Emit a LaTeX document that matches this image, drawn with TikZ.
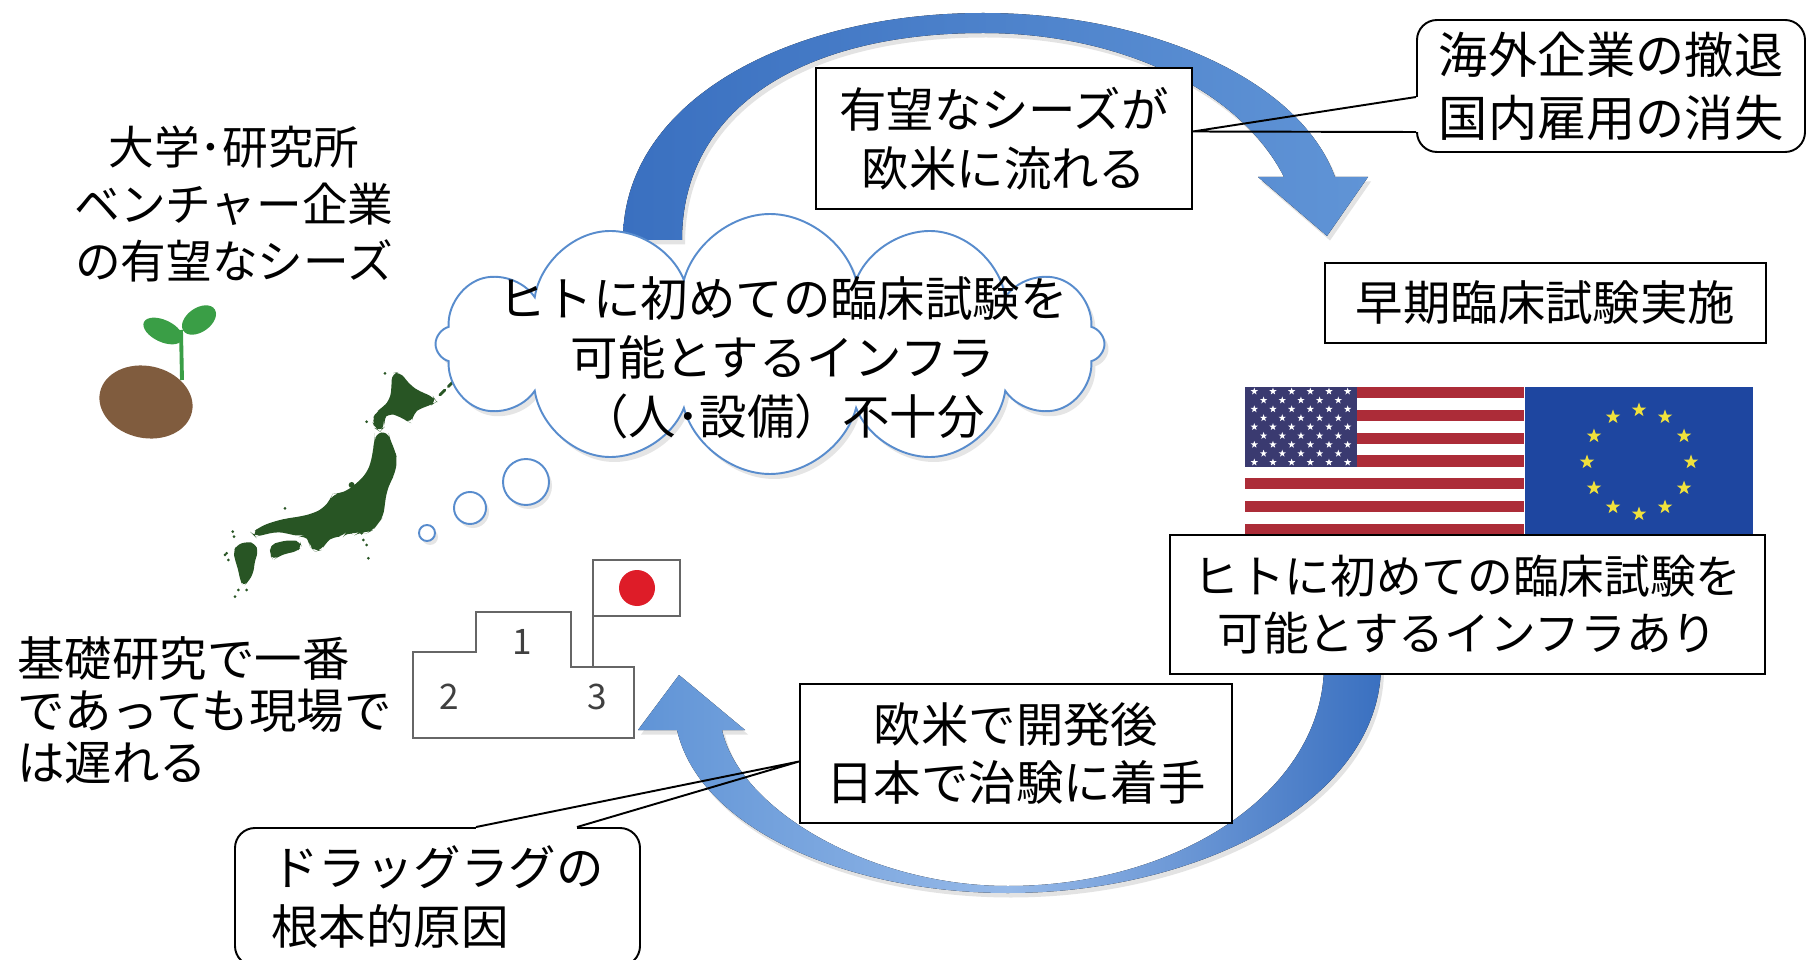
\documentclass[tikz,border=0pt]{standalone}
\usepackage{fontspec}
\setmainfont{Noto Sans CJK JP}
\usetikzlibrary{calc, positioning, shapes.symbols, shadows}
\definecolor{arcDark}{RGB}{58,112,192}
\definecolor{arcMid}{RGB}{96,148,214}
\definecolor{arcLight}{RGB}{150,185,232}
\definecolor{cloudBlue}{RGB}{88,140,205}
\definecolor{mapGreen}{RGB}{40,85,36}
\definecolor{seedBrown}{RGB}{128,92,62}
\definecolor{leafGreen}{RGB}{58,158,70}
\definecolor{usRed}{RGB}{172,44,56}
\definecolor{usBlue}{RGB}{58,58,112}
\definecolor{euBlue}{RGB}{30,70,160}
\definecolor{euYellow}{RGB}{240,225,60}
\definecolor{jpRed}{RGB}{222,28,40}
\definecolor{podiumGray}{gray}{0.4}

% five-pointed star: centre x, centre y, radius, colour
\newcommand{\flagstar}[4]{%
  \fill[#4] ({#1},{#2}) +(-90:#3)
    \foreach \k in {1,...,9}{ -- +({-90+36*\k}:{#3*(0.4+0.6*(1-mod(\k,2)))}) } -- cycle;}

\begin{document}
\begin{tikzpicture}[x=0.2mm, y=-0.2mm,
    txt/.style={font=\fontsize{27}{33.5}\selectfont, align=center, inner sep=0pt},
    box/.style={txt, draw=black, line width=1.1pt, fill=white},
    callout/.style={box, rounded corners=4mm},
    arcshadow/.style={drop shadow={opacity=0.22, shadow xshift=0.6mm, shadow yshift=-0.9mm}},
    bubble/.style={draw=cloudBlue, line width=1.1pt, fill=white,
      drop shadow={opacity=0.2, shadow xshift=0.6mm, shadow yshift=-0.8mm}},
    rank/.style={font=\fontsize{20}{20}\selectfont, text=black!75}]
    \clip (0,0) rectangle (1809,960);
    \fill[white] (0,0) rectangle (1809,960);

    % upper curved arrow
    \fill[arcshadow, left color=arcDark, right color=arcMid]
      (623,240) .. controls (623,100) and (790,13) .. (983,13)
      .. controls (1150,13) and (1300,80) .. (1335,177)
      -- (1368,177) -- (1327,236) -- (1258,177) -- (1284,177)
      .. controls (1240,90) and (1120,33) .. (983,33)
      .. controls (800,33) and (682,110) .. (682,240) -- cycle;

    % lower curved arrow
    \fill[arcshadow, left color=arcMid, right color=arcDark, middle color=arcLight]
      (1381,665) .. controls (1381,800) and (1200,893) .. (1008,893)
      .. controls (850,893) and (700,830) .. (677,730)
      -- (638,730) -- (679,675) -- (745,730) -- (722,730)
      .. controls (740,810) and (870,886) .. (1008,886)
      .. controls (1180,886) and (1324,790) .. (1324,665) -- cycle;

    % seed
    \draw[leafGreen, line width=2.2pt] (182,380) -- (181,330);
    \fill[leafGreen, rotate around={-25:(163,331)}] (163,331) ellipse [x radius=21, y radius=11];
    \fill[leafGreen, rotate around={35:(199,320)}] (199,320) ellipse [x radius=19, y radius=12];
    \fill[seedBrown, rotate around={-12:(146,402)}] (146,402) ellipse [x radius=47, y radius=36];

    % Japan
    \begin{scope}[shift={(220,360)}, scale=0.3333, mapGreen]
      % Hokkaido
      \fill[rounded corners=4pt] (515,40) -- (540,35) -- (570,75) -- (600,95) -- (640,110)
        -- (650,125) -- (635,135) -- (600,145) -- (580,160) -- (575,190)
        -- (555,180) -- (530,165) -- (505,160) -- (490,175) -- (495,200)
        -- (480,215) -- (465,205) -- (455,180) -- (470,155) -- (490,140)
        -- (510,120) -- (515,80) -- cycle;
      % Honshu
      \fill[rounded corners=4pt] (465,220) -- (505,215) -- (510,240) -- (525,270) -- (532,300)
        -- (525,340) -- (510,370) -- (500,395) -- (495,430) -- (490,470)
        -- (475,490) -- (460,510) -- (440,520) -- (420,515) -- (405,525)
        -- (380,515) -- (370,530) -- (340,530) -- (320,545) -- (305,570)
        -- (285,575) -- (270,560) -- (265,540) -- (255,525) -- (240,530)
        -- (200,520) -- (170,515) -- (130,525) -- (105,530) -- (95,520)
        -- (120,500) -- (160,485) -- (200,475) -- (240,470) -- (280,460)
        -- (310,445) -- (330,420) -- (338,402) -- (360,400) -- (385,390)
        -- (410,370) -- (440,340) -- (455,300) -- (460,260) -- (465,240) -- cycle;
      % Shikoku
      \fill[rounded corners=3pt] (150,555) -- (180,545) -- (215,540) -- (240,545) -- (245,560)
        -- (230,575) -- (200,580) -- (175,590) -- (160,600) -- (150,585) -- cycle;
      % Kyushu
      \fill[rounded corners=3pt] (50,555) -- (80,545) -- (105,550) -- (115,575) -- (105,600)
        -- (100,640) -- (85,665) -- (70,680) -- (60,660) -- (55,630)
        -- (45,600) -- (40,575) -- cycle;
      % Kurils
      \foreach \a/\b in {{(660,105)}/{(675,90)}, {(685,80)}/{(700,65)},
          {(710,55)}/{(725,42)}, {(735,33)}/{(750,20)}}
        \draw[line width=1.6pt, line cap=round] \a -- \b;
      % small islands
      \fill (395,375) circle (9);
      \foreach \p in {(195,445),(495,40),(440,185),(425,520),(430,540),(440,555),
          (445,595),(55,690),(45,710),(80,690),(20,580),(25,600),(15,585),(38,515),(42,530)}
        \fill \p circle (4.5);
    \end{scope}

    % thought cloud
    \node[cloud, cloud puffs=12, cloud ignores aspect, draw=cloudBlue, line width=1.1pt,
      fill=white, minimum width=133.8mm, minimum height=52mm,
      drop shadow={opacity=0.2, shadow xshift=0.8mm, shadow yshift=-1mm}]
      (cloud) at (770,344) {};
    \draw[bubble] (526,482) circle (23);
    \draw[bubble] (470,508) circle (16);
    \draw[bubble] (427,533) circle (8);
    \node[txt] (infraNG) at (783,358) {ヒトに初めての臨床試験を\\可能とするインフラ\\（人･設備）不十分};

    \node[txt, font=\fontsize{26}{32.5}\selectfont] (seedsTxt) at (234,204)
      {大学･研究所\\ベンチャー企業\\の有望なシーズ};

    \node[box, minimum width=75.2mm, minimum height=28.2mm] (seedsFlow) at (1004,138.5)
      {有望なシーズが\\欧米に流れる};

    % callout: withdrawal
    \node[callout, minimum width=77.6mm, minimum height=26.4mm,
      font=\fontsize{28}{36}\selectfont] (withdraw) at (1611,86) {海外企業の撤退\\国内雇用の消失};
    \coordinate (wTip) at ($(seedsFlow.east)+(0,-7)$);
    \coordinate (wA) at ($(withdraw.west)+(0,11)$);
    \coordinate (wB) at ($(withdraw.west)+(0,46)$);
    \draw[white, line width=2pt] (wA) -- (wB);
    \draw[line width=1.1pt] (wA) -- (wTip) -- (wB);

    \node[box, minimum width=88.2mm, minimum height=16mm] (earlyTrial) at (1545.5,303)
      {早期臨床試験実施};

    % US flag
    \foreach \i in {0,2,...,12}
      \fill[usRed] (1245,{387+\i*11.385}) rectangle (1524,{387+(\i+1)*11.385});
    \fill[usBlue] (1245,387) rectangle (1357,466.7);
    \foreach \r in {0,2,4,6,8}
      \foreach \c in {0,...,5}
        \flagstar{1254.3+\c*18.67}{391.4+\r*8.87}{3.8}{white};
    \foreach \r in {1,3,5,7}
      \foreach \c in {0,...,4}
        \flagstar{1263.6+\c*18.67}{391.4+\r*8.87}{3.8}{white};

    % EU flag
    \fill[euBlue] (1525,387) rectangle (1753,538);
    \foreach \k in {0,...,11}
      \flagstar{1639+52*cos(30*\k)}{462+52*sin(30*\k)}{7.5}{euYellow};

    \node[box, minimum width=119mm, minimum height=27.8mm, font=\fontsize{26}{32.5}\selectfont]
      (infraOK) at (1467.5,604.5) {ヒトに初めての臨床試験を\\可能とするインフラあり};

    \node[box, minimum width=86.4mm, minimum height=27.8mm] (lateStart) at (1016,753.5)
      {欧米で開発後\\日本で治験に着手};

    % podium and flag
    \draw[podiumGray, line width=0.9pt, fill=white]
      (413,738) |- (476,652) |- (571,612) |- (634,667) -- (634,738) -- cycle;
    \node[rank] (rank1) at (522,642) {1};
    \node[rank] (rank2) at (449,697) {2};
    \node[rank] (rank3) at (597,697) {3};
    \draw[podiumGray, line width=0.9pt] (593,667) -- (593,560);
    \draw[podiumGray, line width=0.9pt, fill=white] (593,560) rectangle (680,616);
    \fill[jpRed] (637,588) circle (18);

    \node[txt, align=left, anchor=west, font=\fontsize{27}{29.5}\selectfont] (lagTxt) at (17,710)
      {基礎研究で一番\\であっても現場で\\は遅れる};

    % callout: drug lag
    \node[callout, align=left, minimum width=81mm, minimum height=27.6mm] (dragLag) at (437.5,897)
      {ドラッグラグの\\根本的原因};
    \coordinate (dTip) at ($(lateStart.west)+(0,8)$);
    \coordinate (dA) at ($(dragLag.north)+(38.5,0)$);
    \coordinate (dB) at ($(dragLag.north)+(139.5,0)$);
    \draw[white, line width=2pt] (dA) -- (dB);
    \draw[line width=1.1pt] (dA) -- (dTip) -- (dB);
\end{tikzpicture}
\end{document}
